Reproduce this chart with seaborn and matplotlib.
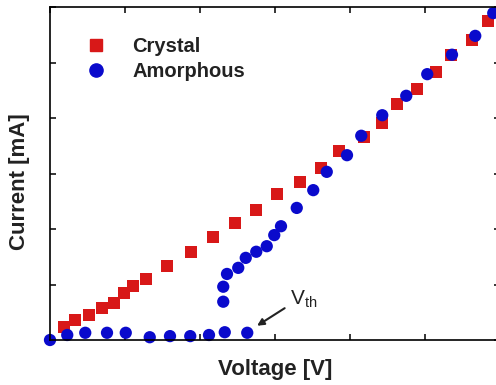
import matplotlib
matplotlib.use("Agg")
import matplotlib.pyplot as plt
import seaborn as sns
import pandas as pd
from matplotlib.lines import Line2D

crystal_v = [0.19, 0.33, 0.52, 0.69, 0.85, 0.99, 1.11, 1.28, 1.56, 1.88, 2.17, 2.47,
             2.75, 3.03, 3.33, 3.61, 3.85, 4.19, 4.43, 4.63, 4.89, 5.15, 5.35, 5.63, 5.84]
crystal_i = [0.23, 0.36, 0.45, 0.58, 0.67, 0.85, 0.97, 1.10, 1.33, 1.59, 1.86, 2.11,
             2.34, 2.63, 2.85, 3.10, 3.41, 3.66, 3.91, 4.25, 4.52, 4.83, 5.14, 5.41, 5.75]
amorph_v = [0.0, 0.23, 0.47, 0.76, 1.01, 1.33, 1.60, 1.87, 2.12, 2.33, 2.63,
            2.31, 2.31, 2.36, 2.51, 2.61, 2.75, 2.89, 2.99, 3.08, 3.29, 3.51, 3.69,
            3.96, 4.15, 4.43, 4.75, 5.03, 5.36, 5.67, 5.91]
amorph_i = [0.0, 0.09, 0.13, 0.13, 0.13, 0.05, 0.07, 0.07, 0.09, 0.14, 0.13,
            0.69, 0.96, 1.19, 1.30, 1.48, 1.59, 1.69, 1.89, 2.05, 2.38, 2.70, 3.03,
            3.33, 3.68, 4.05, 4.40, 4.79, 5.14, 5.48, 5.89]
labels = ["Crystal", "Amorphous"]

df = pd.DataFrame({
    "Voltage": crystal_v + amorph_v,
    "Current": crystal_i + amorph_i,
    "Phase": [labels[0]] * len(crystal_v) + [labels[1]] * len(amorph_v),
})

sns.set_style("white")
plt.rcParams["font.family"] = ["Liberation Sans", "DejaVu Sans"]
plt.rcParams["mathtext.fontset"] = "custom"
plt.rcParams["mathtext.rm"] = "Liberation Sans"
plt.rcParams["mathtext.it"] = "Liberation Sans"

red = "#d81818"
blue = "#0a0acc"

fig = plt.figure(figsize=(4.96, 3.85), dpi=100)
ax = fig.add_axes([50 / 496, 45 / 385, 450 / 496, 333 / 385])

sns.scatterplot(data=df, x="Voltage", y="Current", hue="Phase", style="Phase",
                palette={labels[0]: red, labels[1]: blue},
                markers={labels[0]: "s", labels[1]: "o"},
                s=78, linewidth=0, ax=ax, legend=False, clip_on=False)

ax.set_xlim(0, 6)
ax.set_ylim(0, 6)
ax.set_xticks(range(0, 7))
ax.set_yticks(range(0, 7))
ax.set_xticklabels([])
ax.set_yticklabels([])
ax.tick_params(direction="in", length=4, width=1.1, top=True, right=True,
               bottom=True, left=True, color="black")
for sp in ax.spines.values():
    sp.set_color("black")
    sp.set_linewidth(1.2)

ax.set_xlabel("Voltage [V]", fontsize=16, fontweight="bold", color="#222222", labelpad=10)
ax.set_ylabel("Current [mA]", fontsize=16, fontweight="bold", color="#222222")
ax.yaxis.set_label_coords(-0.044, 0.475)

handles = [Line2D([], [], marker="s", linestyle="none", color=red, markersize=9),
           Line2D([], [], marker="o", linestyle="none", color=blue, markersize=9.5)]
ax.legend(handles, labels, loc="upper left", bbox_to_anchor=(0.035, 0.965), frameon=False,
          prop={"size": 14.5, "weight": "bold"}, handletextpad=1.2, labelspacing=0.33,
          handlelength=1.2, labelcolor="#222222")

ax.annotate("", xy=(2.73, 0.23), xytext=(3.16, 0.60),
            arrowprops=dict(arrowstyle="-|>", color="#222222", lw=1.5, mutation_scale=10))
ax.text(3.2, 0.63, r"V$_{\mathrm{th}}$", fontsize=15, color="#222222",
        ha="left", va="baseline")

fig.savefig("out.png", dpi=100)
